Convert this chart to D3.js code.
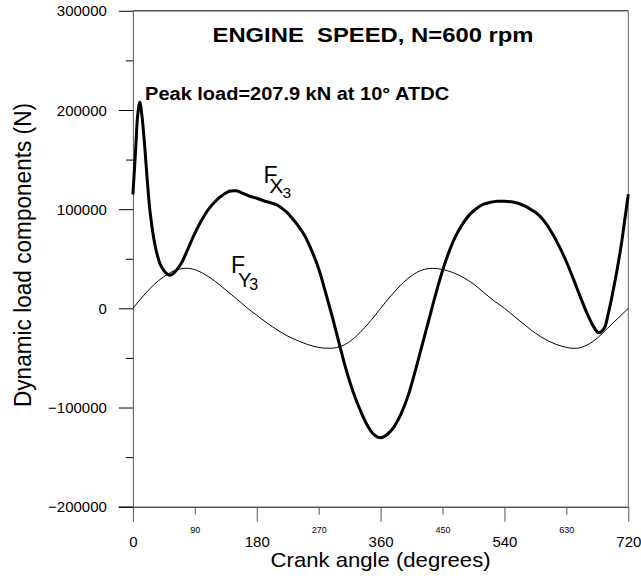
<!DOCTYPE html>
<html>
<head>
<meta charset="utf-8">
<script src="https://cdn.jsdelivr.net/npm/d3@7"></script>
<style>
  html, body { margin: 0; padding: 0; background: #fff; }
  svg { display: block; font-family: "Liberation Sans", Arial, Helvetica, sans-serif; }
  text { white-space: pre; }
</style>
</head>
<body>
<svg id="chart" width="641" height="578"></svg>
<script>
// ---- Data ----
const fxAngles = [0, 4, 7, 10, 13, 17, 21, 25, 30, 35, 40, 45, 50, 55, 60, 70, 80, 90, 100, 110, 120, 130, 140, 150, 160, 170, 180, 190, 200, 210, 220, 225, 230, 240, 250, 260, 270, 280, 290, 300, 310, 320, 330, 340, 350, 360, 370, 380, 390, 400, 410, 420, 430, 440, 450, 460, 470, 480, 490, 500, 510, 520, 530, 540, 550, 560, 570, 580, 590, 600, 610, 620, 630, 640, 650, 660, 670, 677, 685, 690, 700, 710, 715, 720];
const fxValues = [115000, 160000, 195000, 207900, 195000, 165000, 128000, 97000, 72000, 55000, 44000, 38000, 34500, 33500, 36000, 45000, 60000, 75500, 89000, 100000, 108000, 114000, 118000, 118500, 116000, 113000, 111000, 108500, 106500, 104000, 99000, 96000, 92000, 83500, 73000, 58000, 40000, 16000, -9000, -36000, -62000, -84000, -102000, -117000, -127000, -130500, -127000, -119000, -106000, -88000, -64000, -38000, -12000, 14000, 38000, 58000, 74000, 86000, 95000, 101000, 105000, 107000, 108000, 108000, 107500, 106000, 103000, 99000, 94000, 86000, 75000, 62000, 47000, 30000, 12000, -5000, -19000, -24600, -20000, -8000, 25000, 65000, 90000, 115000];

const fyAngles = [0, 15, 30, 45, 60, 75, 90, 105, 120, 135, 150, 165, 180, 195, 210, 225, 240, 255, 270, 285, 300, 315, 330, 345, 360, 375, 390, 405, 420, 435, 450, 465, 480, 495, 510, 525, 540, 555, 570, 585, 600, 615, 630, 645, 660, 675, 690, 705, 720];
const fyValues = [0, 12500, 23500, 32000, 37800, 40300, 39000, 34000, 27000, 18500, 10000, 1000, -7000, -14800, -21800, -28000, -32700, -36700, -39400, -40300, -38800, -33500, -24500, -13000, 0, 12600, 24000, 32900, 38500, 40300, 39200, 36100, 31300, 24500, 16000, 7500, 0, -8500, -17000, -25000, -31500, -36300, -39300, -40300, -37000, -30000, -20000, -10000, 0];

const xMajorTicks = [0, 180, 360, 540, 720];
const xMinorTicks = [90, 270, 450, 630];
const yMajorTicks = [-200000, -100000, 0, 100000, 200000, 300000];
const yMinorTicks = [-150000, -50000, 50000, 150000, 250000];

const titleText = "ENGINE  SPEED, N=600 rpm";
const peakText = "Peak load=207.9 kN at 10\u00B0 ATDC";
const xLabel = "Crank angle (degrees)";
const yLabel = "Dynamic load components (N)";

// ---- Drawing ----
const svg = d3.select("#chart");
const x = d3.scaleLinear().domain([0, 720]).range([132.9, 628.3]);
const y = d3.scaleLinear().domain([-200000, 300000]).range([506.7, 10.8]);

// Frame: top and right border
svg.append("line").attr("x1", x(0)).attr("x2", x(720)).attr("y1", y(300000)).attr("y2", y(300000))
  .attr("stroke", "#000").attr("stroke-width", 1);
svg.append("line").attr("x1", x(720)).attr("x2", x(720)).attr("y1", y(300000)).attr("y2", y(-200000))
  .attr("stroke", "#666").attr("stroke-width", 1);

// Y axis
const yAxisMajor = svg.append("g").attr("transform", `translate(${x(0)},0)`)
  .call(d3.axisLeft(y).tickValues(yMajorTicks).tickSize(14).tickSizeOuter(0).tickPadding(12).tickFormat(d3.format("d")));
const yAxisMinor = svg.append("g").attr("transform", `translate(${x(0)},0)`)
  .call(d3.axisLeft(y).tickValues(yMinorTicks).tickSize(7).tickSizeOuter(0).tickFormat(""));
[yAxisMajor, yAxisMinor].forEach(g => {
  g.select(".domain").attr("stroke", "#555");
  g.selectAll(".tick line").attr("stroke", "#000");
});
yAxisMinor.select(".domain").remove();
yAxisMajor.selectAll(".tick text").attr("font-size", 15).attr("fill", "#000")
  .attr("font-family", "Liberation Sans, Arial, sans-serif").attr("dy", "0.34em");

// X axis
const xAxisMajor = svg.append("g").attr("transform", `translate(0,${y(-200000)})`)
  .call(d3.axisBottom(x).tickValues(xMajorTicks).tickSize(15).tickSizeOuter(0).tickFormat(d3.format("d")));
const xAxisMinor = svg.append("g").attr("transform", `translate(0,${y(-200000)})`)
  .call(d3.axisBottom(x).tickValues(xMinorTicks).tickSize(8).tickSizeOuter(0).tickFormat(d3.format("d")));
xAxisMajor.select(".domain").attr("stroke", "#000").attr("d", `M${x(0) - 14.3},0.5H${x(720)}`);
xAxisMinor.select(".domain").remove();
xAxisMajor.selectAll(".tick line").attr("stroke", "#555");
xAxisMinor.selectAll(".tick line").attr("stroke", "#555");
xAxisMajor.selectAll(".tick text").attr("font-size", 15).attr("fill", "#000").attr("y", 40.3).attr("dy", null)
  .attr("font-family", "Liberation Sans, Arial, sans-serif");
xAxisMinor.selectAll(".tick text").attr("font-size", 9).attr("fill", "#000").attr("y", 26.3).attr("dy", null)
  .attr("font-family", "Liberation Sans, Arial, sans-serif");

// Curves
const fxData = fxAngles.map((a, i) => [a, fxValues[i]]);
const fyData = fyAngles.map((a, i) => [a, fyValues[i]]);
const lineFx = d3.line().x(d => x(d[0])).y(d => y(d[1])).curve(d3.curveCatmullRom.alpha(0.5));
const lineFy = d3.line().x(d => x(d[0])).y(d => y(d[1])).curve(d3.curveNatural);

svg.append("path").datum(fyData).attr("d", lineFy).attr("fill", "none").attr("stroke", "#000").attr("stroke-width", 1);
svg.append("path").datum(fxData).attr("d", lineFx).attr("fill", "none").attr("stroke", "#000").attr("stroke-width", 3)
  .attr("stroke-linejoin", "round");

// Title
svg.append("text").attr("x", 373).attr("y", 41.7).attr("text-anchor", "middle").attr("xml:space", "preserve")
  .attr("font-size", 21).attr("font-weight", "bold").attr("textLength", 321).attr("lengthAdjust", "spacingAndGlyphs")
  .text(titleText);

// Peak annotation
svg.append("text").attr("x", 145.1).attr("y", 100)
  .attr("font-size", 18).attr("font-weight", "bold").attr("textLength", 304).attr("lengthAdjust", "spacingAndGlyphs")
  .text(peakText);

// Series labels F_X3, F_Y3
function seriesLabel(fx, fy, sub, sx, sy, tx, ty, fF, fS, fT) {
  svg.append("text").attr("x", fx).attr("y", fy).attr("font-size", fF).text("F");
  svg.append("text").attr("x", sx).attr("y", sy).attr("font-size", fS).text(sub);
  svg.append("text").attr("x", tx).attr("y", ty).attr("font-size", fT).text("3");
}
seriesLabel(263.5, 183.3, "X", 269.2, 193.3, 282.6, 197.7, 23, 21, 15.5);
seriesLabel(231, 273.3, "Y", 238, 286.7, 249.3, 290, 23, 20, 16);

// Axis titles
svg.append("text").attr("x", 380.6).attr("y", 566.7).attr("text-anchor", "middle")
  .attr("font-size", 21).attr("textLength", 220).attr("lengthAdjust", "spacingAndGlyphs").text(xLabel);
svg.append("text").attr("transform", "translate(30.5,255) rotate(-90)").attr("text-anchor", "middle")
  .attr("font-size", 23).attr("textLength", 304).attr("lengthAdjust", "spacingAndGlyphs").text(yLabel);
</script>
</body>
</html>
